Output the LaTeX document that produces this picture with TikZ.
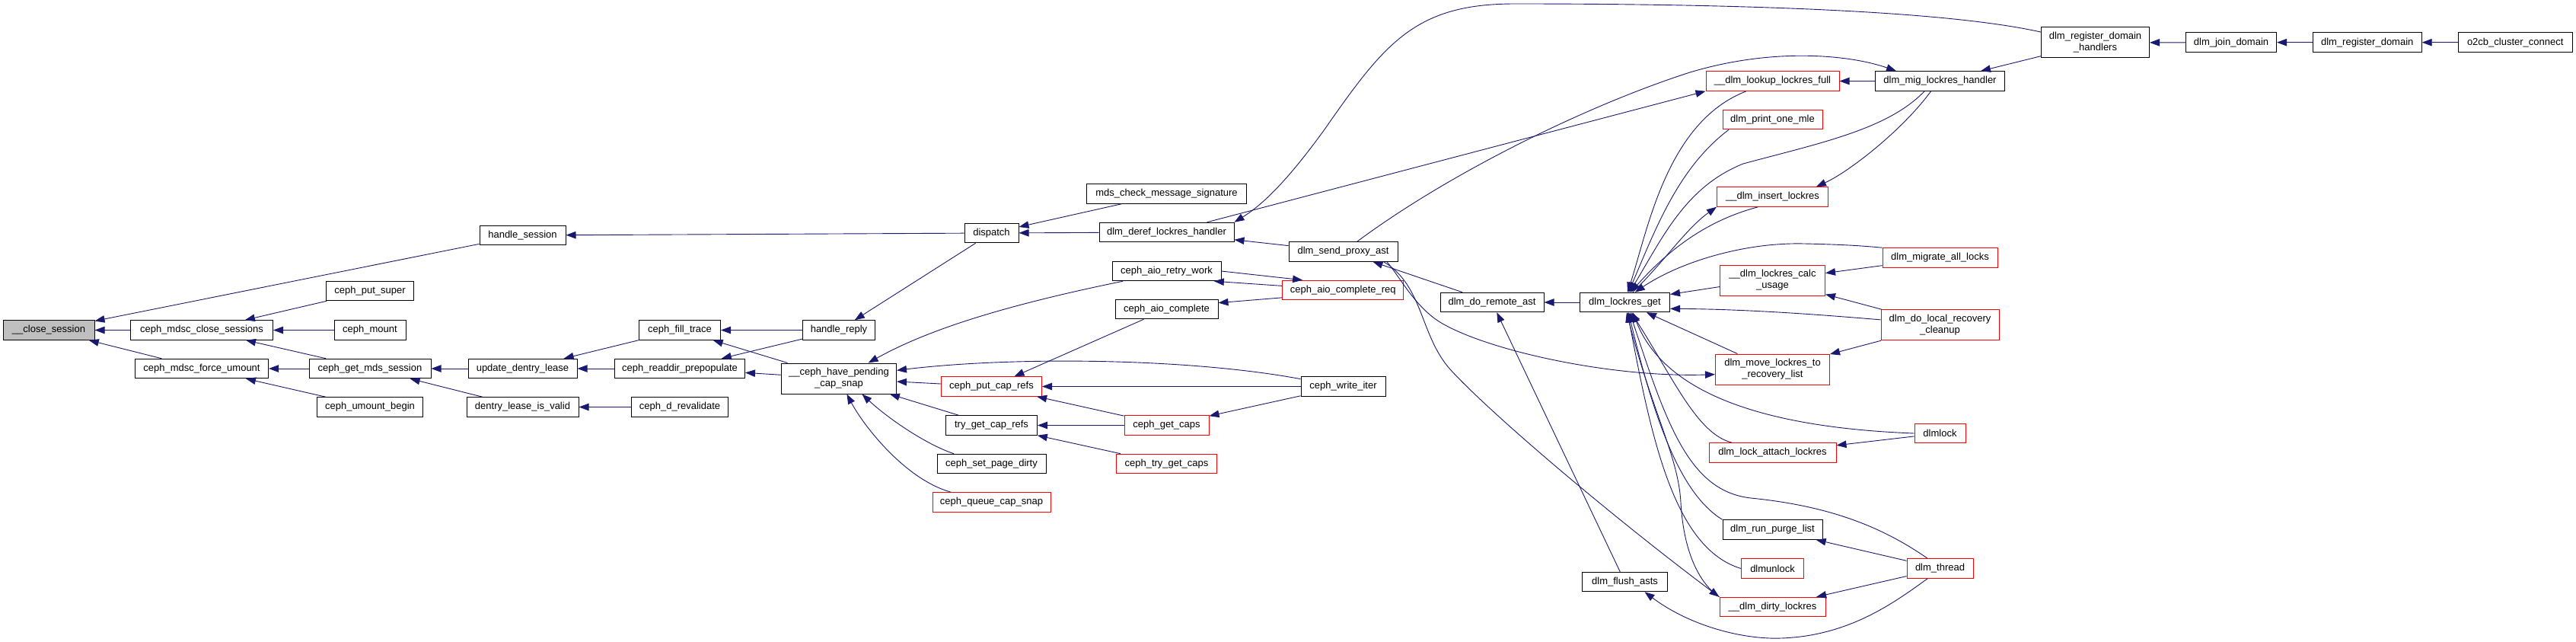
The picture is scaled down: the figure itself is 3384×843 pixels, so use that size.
\documentclass[tikz,border=0pt]{standalone}
\usepackage{fontspec}
\setmainfont{Liberation Sans}
\usetikzlibrary{arrows.meta,positioning}
\definecolor{edgec}{HTML}{191970}
\definecolor{redc}{HTML}{FF0000}
\definecolor{focusc}{HTML}{BFBFBF}
\tikzset{
  fn/.style={draw=black,line width=1pt,fill=white,minimum height=25.5pt,inner sep=0pt},
  fnred/.style={fn,draw=redc},
  twoline/.style={minimum height=40pt,align=center},
  call/.style={draw=edgec,line width=0.9pt,{Triangle[length=13pt,width=9.5pt]}-},
}
\begin{document}
\begin{tikzpicture}[x=1pt,y=-1pt,font=\fontsize{13}{15}\selectfont]
  \useasboundingbox (0,0) rectangle (3384,843);
  % plain boxes
  \node[fn,fill=focusc,minimum width=120] (close) at (64,433.5) {\_\_close\_session};
  \foreach \n/\x/\y/\w/\t in {
      mdscclose/265/433.5/187/ceph\_mdsc\_close\_sessions,
      forceumount/265/484/175/ceph\_mdsc\_force\_umount,
      putsuper/486/382/115/ceph\_put\_super,
      mount/486/433.5/94/ceph\_mount,
      getmds/486/484/160/ceph\_get\_mds\_session,
      umountbegin/486/534.5/139/ceph\_umount\_begin,
      hsession/686.5/309/113/handle\_session,
      updlease/686.5/484/143/update\_dentry\_lease,
      leasevalid/686.5/534.5/147/dentry\_lease\_is\_valid,
      filltrace/893/433.5/107/ceph\_fill\_trace,
      readdir/893/484/171/ceph\_readdir\_prepopulate,
      drevalidate/893/534.5/127/ceph\_d\_revalidate,
      hreply/1102/433.5/95/handle\_reply,
      dispatch/1302.5/306/71/dispatch,
      trygetcaprefs/1302.5/558.5/120/try\_get\_cap\_refs,
      setpagedirty/1302.5/609/143/ceph\_set\_page\_dirty,
      mdscheck/1532.5/254.5/210/mds\_check\_message\_signature,
      deref/1532.5/305/177/dlm\_deref\_lockres\_handler,
      aioretry/1532.5/356/143/ceph\_aio\_retry\_work,
      aiocomplete/1532.5/406/135/ceph\_aio\_complete,
      sendproxy/1764.5/330.5/143/dlm\_send\_proxy\_ast,
      writeiter/1764.5/507.5/111/ceph\_write\_iter,
      remoteast/1960/397/136/dlm\_do\_remote\_ast,
      lockresget/2134.5/397/118/dlm\_lockres\_get,
      flushasts/2134.5/764/111.5/dlm\_flush\_asts,
      purge/2328.5/695.5/131/dlm\_run\_purge\_list,
      mighandler/2548.5/106.5/170/dlm\_mig\_lockres\_handler,
      joindomain/2931/55.7/119/dlm\_join\_domain,
      regdomain/3109.7/55.7/143/dlm\_register\_domain,
      o2cb/3304.2/55.7/150/o2cb\_cluster\_connect}
    \node[fn,minimum width=\w] (\n) at (\x,\y) {\t};
  % red boxes
  \foreach \n/\x/\y/\w/\t in {
      putcaprefs/1302.5/507.5/132/ceph\_put\_cap\_refs,
      queuecapsnap/1302.5/659.5/155/ceph\_queue\_cap\_snap,
      getcaps/1532.5/558.5/111/ceph\_get\_caps,
      trygetcaps/1532.5/609/132/ceph\_try\_get\_caps,
      aioreq/1764.3/381/159/ceph\_aio\_complete\_req,
      lookup/2328.5/106.5/175/\_\_dlm\_lookup\_lockres\_full,
      printmle/2328.5/157/131/dlm\_print\_one\_mle,
      insert/2328.5/258.5/146/\_\_dlm\_insert\_lockres,
      attach/2328.5/594.5/167/dlm\_lock\_attach\_lockres,
      dlmunlock/2328.5/746.5/82/dlmunlock,
      dirty/2328.5/797/139/\_\_dlm\_dirty\_lockres,
      migrateall/2548.5/338.5/151/dlm\_migrate\_all\_locks,
      dlmlock/2548.5/569/67/dlmlock,
      thread/2548.5/746.5/87/dlm\_thread}
    \node[fnred,minimum width=\w] (\n) at (\x,\y) {\t};
  % two-line boxes
  \node[fn,twoline,minimum width=151] (pending) at (1102,497) {\_\_ceph\_have\_pending\\\_cap\_snap};
  \node[fnred,twoline,minimum width=138] (calcusage) at (2328.5,368) {\_\_dlm\_lockres\_calc\\\_usage};
  \node[fnred,twoline,minimum width=150] (moverec) at (2328.5,485) {dlm\_move\_lockres\_to\\\_recovery\_list};
  \node[fnred,twoline,minimum width=155] (cleanup) at (2548.5,426.7) {dlm\_do\_local\_recovery\\\_cleanup};
  \node[fn,twoline,minimum width=142] (handlers) at (2752.5,56) {dlm\_register\_domain\\\_handlers};

  % ceph callers
  \draw[call] (close) -- (mdscclose);
  \draw[call] (close) -- (forceumount);
  \draw[call] (close) -- (hsession);
  \draw[call] (mdscclose) -- (putsuper);
  \draw[call] (mdscclose) -- (mount);
  \draw[call] (mdscclose) -- (getmds);
  \draw[call] (forceumount) -- (getmds);
  \draw[call] (forceumount) -- (umountbegin);
  \draw[call] (getmds) -- (updlease);
  \draw[call] (getmds) -- (leasevalid);
  \draw[call] (hsession) -- (dispatch);
  \draw[call] (updlease) -- (filltrace);
  \draw[call] (updlease) -- (readdir);
  \draw[call] (leasevalid) -- (drevalidate);
  \draw[call] (filltrace) -- (hreply);
  \draw[call] (filltrace) -- (pending);
  \draw[call] (readdir) -- (hreply);
  \draw[call] (readdir) -- (pending);
  \draw[call] (hreply) -- (dispatch);
  \draw[call] (pending.28) .. controls (1210,438) and (1300,405) .. (aioretry.-167);
  \draw[call] (pending.8) .. controls (1330,468) and (1560,470) .. (writeiter.170);
  \draw[call] (pending) -- (putcaprefs);
  \draw[call] (pending) -- (trygetcaprefs);
  \draw[call] (pending.-34) .. controls (1165,548) and (1215,583) .. (setpagedirty.165);
  \draw[call] (pending.-63) .. controls (1135,560) and (1190,630) .. (queuecapsnap.166);
  \draw[call] (putcaprefs) -- (aiocomplete);
  \draw[call] (putcaprefs) -- (writeiter);
  \draw[call] (putcaprefs) -- (getcaps);
  \draw[call] (trygetcaprefs) -- (getcaps);
  \draw[call] (trygetcaprefs) -- (trygetcaps);
  \draw[call] (getcaps) -- (writeiter);
  \draw[call] (dispatch) -- (mdscheck);
  \draw[call] (dispatch) -- (deref);
  \draw[call] (aioretry.-12) -- (aioreq.176);
  \draw[call] (aioreq.166) -- (aioretry.east);
  \draw[call] (aiocomplete.7) -- (aioreq.-173);

  % dlm callers
  \draw[call] (deref) -- (sendproxy);
  \draw[call] (deref.north east) .. controls (1665,265) and (1700,225) .. (1740,170)
    .. controls (1820,55) and (1860,5) .. (1990,5) .. controls (2300,5) and (2560,15) .. (handlers.169);
  \draw[call] (mighandler.167) .. controls (2430,72) and (2330,62) .. (2220,95)
    .. controls (2080,140) and (1900,230) .. (sendproxy.36);
  \draw[call] (sendproxy) -- (remoteast);
  \draw[call] (remoteast) -- (lockresget);
  \draw[call] (remoteast) -- (flushasts);
  \draw[call] (flushasts.-27) .. controls (2220,822) and (2290,840) .. (2340,838)
    .. controls (2430,835) and (2490,790) .. (thread.-141);
  \draw[call] (moverec.185) .. controls (2120,496) and (1960,462) .. (1895,425)
    .. controls (1860,405) and (1840,365) .. (sendproxy.-13);
  \draw[call] (dirty.north west) .. controls (2120,680) and (1960,545) .. (1905,485)
    .. controls (1865,440) and (1870,375) .. (sendproxy.-14);
  \draw[call] (lookup.south west) -- (deref.14);
  \draw[call] (lookup) -- (mighandler);
  \draw[call] (lockresget.75) .. controls (2165,300) and (2190,160) .. (lookup.-159);
  \draw[call] (lockresget.70) .. controls (2175,300) and (2205,220) .. (printmle.-167);
  \draw[call] (lockresget.65) .. controls (2185,310) and (2215,245) .. (2290,215)
    .. controls (2390,188) and (2480,170) .. (mighandler.-147);
  \draw[call] (lockresget.60) .. controls (2190,330) and (2240,290) .. (insert.-145);
  \draw[call] (insert.south west) .. controls (2215,300) and (2185,345) .. (lockresget.52);
  \draw[call] (insert.13) .. controls (2430,225) and (2500,170) .. (mighandler.-132);
  \draw[call] (lockresget.45) .. controls (2205,345) and (2290,318) .. (2370,320)
    .. controls (2420,321) and (2450,323) .. (migrateall.north west);
  \draw[call] (lockresget.10) -- (calcusage.187);
  \draw[call] (lockresget.-8) .. controls (2300,406) and (2400,414) .. (cleanup.175);
  \draw[call] (calcusage) -- (migrateall);
  \draw[call] (calcusage) -- (cleanup);
  \draw[call] (moverec) -- (cleanup);
  \draw[call] (lockresget.-25) -- (moverec.156);
  \draw[call] (lockresget.-52) .. controls (2180,500) and (2280,560) .. (dlmlock.west);
  \draw[call] (lockresget.-58) .. controls (2200,500) and (2230,570) .. (attach.166);
  \draw[call] (lockresget.-64) .. controls (2190,560) and (2220,645) .. (2300,654)
    .. controls (2400,664) and (2470,690) .. (thread.141);
  \draw[call] (lockresget.-70) .. controls (2175,560) and (2210,650) .. (purge.north west);
  \draw[call] (lockresget.-75) .. controls (2170,580) and (2200,720) .. (dlmunlock.west);
  \draw[call] (lockresget.-80) .. controls (2170,540) and (2205,600) .. (2208,660)
    .. controls (2212,730) and (2235,768) .. (dirty.north west);
  \draw[call] (attach) -- (dlmlock);
  \draw[call] (purge) -- (thread);
  \draw[call] (dirty) -- (thread);
  \draw[call] (mighandler) -- (handlers);
  \draw[call] (handlers) -- (joindomain);
  \draw[call] (joindomain) -- (regdomain);
  \draw[call] (regdomain) -- (o2cb);
\end{tikzpicture}
\end{document}
